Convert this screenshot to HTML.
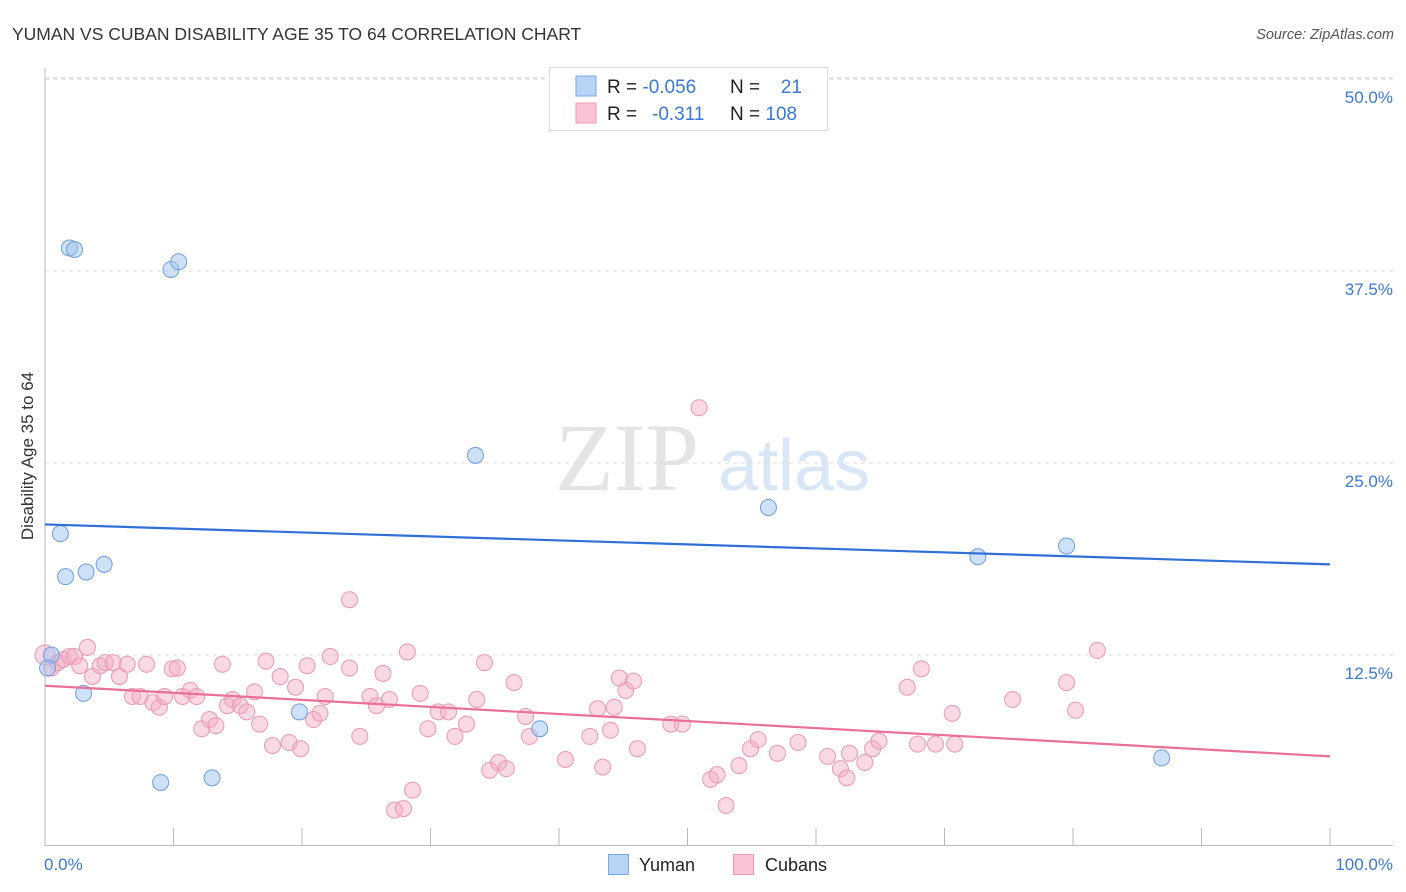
<!DOCTYPE html>
<html><head><meta charset="utf-8">
<style>
body{margin:0;background:#fff;font-family:"Liberation Sans",sans-serif;}
svg{display:block}
</style></head>
<body>
<svg id="chart" width="1406" height="892">
<text x="12" y="40" font-size="17.5" fill="#333">YUMAN VS CUBAN DISABILITY AGE 35 TO 64 CORRELATION CHART</text>
<text x="1394" y="39" font-size="14.5" fill="#555" font-style="italic" text-anchor="end">Source: ZipAtlas.com</text>
<text transform="translate(33,456) rotate(-90)" font-size="17" fill="#333" text-anchor="middle">Disability Age 35 to 64</text>
<g>
<text x="555" y="490" font-family="Liberation Serif,serif" font-size="96" fill="#e4e4e4">ZIP</text>
<text x="718" y="490" font-size="72" fill="#d8e6f6">atlas</text>
</g>
<g id="grid"></g>
<g id="axes"></g>
<g id="pts"></g>
<g id="trends"></g>
<g>
<rect x="549.5" y="67.5" width="278" height="63" fill="#fff" stroke="#ddd"/>
<rect x="576" y="76" width="20" height="20" fill="#b9d3f5" stroke="#7aa7e6"/>
<rect x="576" y="103" width="20" height="20" fill="#f9c4d3" stroke="#ec9ab4"/>
<text x="607" y="93" font-size="19" fill="#222">R = <tspan fill="#3b78d8">-0.056</tspan></text>
<text x="730" y="93" font-size="19" fill="#222">N = </text><text x="802" y="93" font-size="19" fill="#3b78d8" text-anchor="end">21</text>
<text x="607" y="120" font-size="19" fill="#222">R = <tspan x="652" fill="#3b78d8">-0.311</tspan></text>
<text x="730" y="120" font-size="19" fill="#222">N = <tspan fill="#3b78d8">108</tspan></text>
</g>
<g>
<rect x="608.5" y="854.5" width="20" height="20" fill="#b9d3f5" stroke="#7aa7e6"/>
<text x="639" y="871" font-size="18" fill="#222">Yuman</text>
<rect x="733.5" y="854.5" width="20" height="20" fill="#f9c4d3" stroke="#ec9ab4"/>
<text x="765" y="871" font-size="18" fill="#222">Cubans</text>
</g>
</svg>
<script>
const yTicks=[12.5,25,37.5,50];
const yTickLabels=["12.5%","25.0%","37.5%","50.0%"];
const xLabels=["0.0%","100.0%"];
const yumanX=[1.9,2.3,9.8,10.4,33.5,56.3,1.2,1.6,3.2,4.6,72.6,79.5,0.5,0.2,3.0,19.8,38.5,9.0,13.0,86.9,51.0];
const yumanY=[39.0,38.9,37.6,38.1,25.5,22.1,20.4,17.6,17.9,18.4,18.9,19.6,12.5,11.65,10.0,8.8,7.7,4.2,4.5,5.8,48.5];
const cubanX=[0,0.5,1.0,1.4,1.9,2.3,2.7,3.3,3.7,4.3,4.7,5.3,5.8,6.4,6.8,7.4,7.9,8.4,8.9,9.3,9.9,10.3,10.7,11.3,11.8,12.2,12.8,13.3,13.8,14.2,14.6,15.2,15.7,16.3,16.7,17.2,17.7,18.3,19.0,19.5,19.9,20.4,20.9,21.4,21.8,22.2,23.7,23.7,24.5,25.3,25.8,26.3,26.8,27.2,27.9,28.2,28.6,29.2,29.8,30.6,31.4,31.9,32.8,33.6,34.2,34.6,35.3,35.9,36.5,37.4,37.7,40.5,42.4,43.0,43.4,44.0,44.3,44.7,45.2,45.8,46.1,48.7,49.6,50.9,51.8,52.3,53.0,54.0,54.9,55.5,57.0,58.6,60.9,61.9,62.4,62.6,63.8,64.4,64.9,67.1,67.9,68.2,69.3,70.6,70.8,75.3,79.5,80.2,81.9];
const cubanY=[12.5,11.65,12.0,12.2,12.4,12.4,11.8,13.0,11.1,11.8,12.0,12.0,11.1,11.9,9.8,9.8,11.9,9.4,9.1,9.8,11.6,11.65,9.8,10.2,9.8,7.7,8.3,7.9,11.9,9.2,9.6,9.2,8.8,10.1,8.0,12.1,6.6,11.1,6.8,10.4,6.4,11.8,8.3,8.7,9.8,12.4,16.1,11.65,7.2,9.8,9.2,11.3,9.6,2.4,2.5,12.7,3.7,10.0,7.7,8.8,8.8,7.2,8.0,9.6,12.0,5.0,5.5,5.1,10.7,8.5,7.2,5.7,7.2,9.0,5.2,7.6,9.1,11.0,10.2,10.8,6.4,8.0,8.0,28.6,4.4,4.7,2.7,5.3,6.4,7.0,6.1,6.8,5.9,5.1,4.5,6.1,5.5,6.4,6.9,10.4,6.7,11.6,6.7,8.7,6.7,9.6,10.7,8.9,12.8];
const yumanTrend=[21.0,18.4];
const cubanTrend=[10.5,5.9];
const NS="http://www.w3.org/2000/svg";
const X=v=>45+v*12.85, Y=v=>847-v*15.36;
function mk(tag,attrs,parent){const e=document.createElementNS(NS,tag);for(const k in attrs)e.setAttribute(k,attrs[k]);parent.appendChild(e);return e;}
const grid=document.getElementById('grid'),axes=document.getElementById('axes'),pts=document.getElementById('pts'),tr=document.getElementById('trends');
yTicks.forEach((t,i)=>{
 const l=mk('line',{x1:45,x2:1393,y1:Y(t),y2:Y(t),stroke:'#ddd','stroke-dasharray':'4,4'},grid);
 
 
 const tx=mk('text',{x:1393,y:Y(t)+24,'font-size':17,fill:'#3b78d8','text-anchor':'end'},grid);
 tx.textContent=yTickLabels[i];
 
 
});
const g1=mk('line',{x1:45,x2:1393,y1:78,y2:78,stroke:'#ddd','stroke-dasharray':'4,4'},grid);


const ya=mk('line',{x1:45,x2:45,y1:68,y2:846,stroke:'#bbb'},axes);


const xa=mk('line',{x1:45,x2:1393,y1:845.5,y2:845.5,stroke:'#bbb'},axes);


for(let i=1;i<=10;i++){const t=mk('line',{x1:X(i*10),x2:X(i*10),y1:828,y2:846,stroke:'#bbb'},axes);
 
 }
[[0,'start'],[100,'end']].forEach((p,i)=>{const t=mk('text',{x:p[0]==0?44:1393,y:870,'font-size':17,fill:'#3b78d8','text-anchor':p[1]},axes);t.textContent=xLabels[i];
 
 });
cubanX.forEach((x,i)=>{const c=mk('circle',{cx:X(x),cy:Y(cubanY[i]),r:i==0?10:8,fill:'rgba(245,170,195,0.45)',stroke:'#eb98b3','stroke-width':1},pts);
 
 });
yumanX.forEach((x,i)=>{const c=mk('circle',{cx:X(x),cy:Y(yumanY[i]),r:8,fill:'rgba(160,195,240,0.5)',stroke:'#6f9ddf','stroke-width':1},pts);
 
 });
const t1=mk('line',{x1:X(0),x2:X(100),y1:Y(yumanTrend[0]),y2:Y(yumanTrend[1]),stroke:'#2f6fd6','stroke-width':2.2},tr);


const t2=mk('line',{x1:X(0),x2:X(100),y1:Y(cubanTrend[0]),y2:Y(cubanTrend[1]),stroke:'#e8709a','stroke-width':2.2},tr);


</script>
</body></html>
